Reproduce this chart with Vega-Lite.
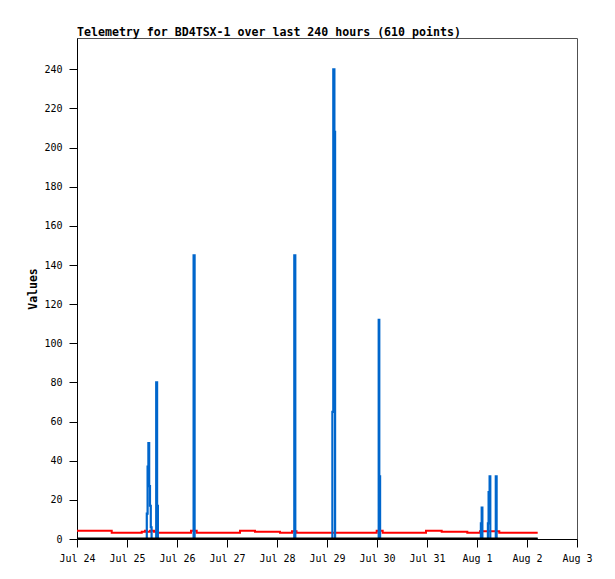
{
  "$schema": "https://vega.github.io/schema/vega-lite/v6.json",
  "width": 500,
  "height": 501,
  "autosize": {"type": "none"},
  "padding": {"left": 77, "top": 38, "right": 38, "bottom": 40},
  "background": "white",
  "title": {
    "text": "Telemetry for BD4TSX-1 over last 240 hours (610 points)",
    "anchor": "start",
    "frame": "group",
    "font": "DejaVu Sans Mono",
    "fontSize": 11.6,
    "fontWeight": "bold",
    "color": "black",
    "offset": -0.5
  },
  "config": {
    "view": {"stroke": "#505050", "strokeWidth": 1},
    "axis": {
      "domainColor": "black",
      "tickColor": "black",
      "labelColor": "black",
      "titleColor": "black",
      "labelFont": "DejaVu Sans Mono",
      "labelFontSize": 10,
      "titleFont": "DejaVu Sans Mono",
      "titleFontSize": 11.5,
      "titleFontWeight": "bold",
      "grid": false,
      "tickSize": 8
    }
  },
  "datasets": {
    "red": [
      {"t": "2023-07-24T00:00:00Z", "v": 4.2},
      {"t": "2023-07-24T16:40:00Z", "v": 3.2},
      {"t": "2023-07-25T07:04:00Z", "v": 3.7},
      {"t": "2023-07-25T08:38:00Z", "v": 4.2},
      {"t": "2023-07-25T09:36:00Z", "v": 3.7},
      {"t": "2023-07-25T11:02:00Z", "v": 4.2},
      {"t": "2023-07-25T12:58:00Z", "v": 3.7},
      {"t": "2023-07-25T14:38:00Z", "v": 3.2},
      {"t": "2023-07-26T06:43:00Z", "v": 4.2},
      {"t": "2023-07-26T09:27:00Z", "v": 3.2},
      {"t": "2023-07-27T06:14:00Z", "v": 4.2},
      {"t": "2023-07-27T13:26:00Z", "v": 3.7},
      {"t": "2023-07-28T01:26:00Z", "v": 3.2},
      {"t": "2023-07-28T07:12:00Z", "v": 3.9},
      {"t": "2023-07-28T09:22:00Z", "v": 3.2},
      {"t": "2023-07-29T23:51:00Z", "v": 4.2},
      {"t": "2023-07-30T02:44:00Z", "v": 3.2},
      {"t": "2023-07-30T23:31:00Z", "v": 4.2},
      {"t": "2023-07-31T07:03:00Z", "v": 3.7},
      {"t": "2023-07-31T19:21:00Z", "v": 3.2},
      {"t": "2023-08-01T01:26:00Z", "v": 3.9},
      {"t": "2023-08-01T10:42:00Z", "v": 3.2},
      {"t": "2023-08-02T05:08:00Z", "v": 3.2}
    ],
    "blue": [
      {"t": "2023-07-24T00:00:00Z", "v": 0},
      {"t": "2023-07-25T09:30:00Z", "v": 13},
      {"t": "2023-07-25T09:53:00Z", "v": 37},
      {"t": "2023-07-25T10:16:00Z", "v": 49},
      {"t": "2023-07-25T10:39:00Z", "v": 27},
      {"t": "2023-07-25T11:02:00Z", "v": 17},
      {"t": "2023-07-25T11:25:00Z", "v": 6},
      {"t": "2023-07-25T11:48:00Z", "v": 0},
      {"t": "2023-07-25T14:01:00Z", "v": 80},
      {"t": "2023-07-25T14:27:00Z", "v": 17},
      {"t": "2023-07-25T14:50:00Z", "v": 0},
      {"t": "2023-07-26T07:58:00Z", "v": 145},
      {"t": "2023-07-26T08:27:00Z", "v": 0},
      {"t": "2023-07-28T08:18:00Z", "v": 145},
      {"t": "2023-07-28T08:47:00Z", "v": 0},
      {"t": "2023-07-29T02:35:00Z", "v": 65},
      {"t": "2023-07-29T03:01:00Z", "v": 240},
      {"t": "2023-07-29T03:33:00Z", "v": 208},
      {"t": "2023-07-29T03:53:00Z", "v": 0},
      {"t": "2023-07-30T00:49:00Z", "v": 112},
      {"t": "2023-07-30T01:06:00Z", "v": 32},
      {"t": "2023-07-30T01:29:00Z", "v": 0},
      {"t": "2023-08-01T01:52:00Z", "v": 8},
      {"t": "2023-08-01T02:15:00Z", "v": 16},
      {"t": "2023-08-01T02:35:00Z", "v": 0},
      {"t": "2023-08-01T05:14:00Z", "v": 8},
      {"t": "2023-08-01T05:34:00Z", "v": 24},
      {"t": "2023-08-01T06:03:00Z", "v": 32},
      {"t": "2023-08-01T06:23:00Z", "v": 0},
      {"t": "2023-08-01T09:01:00Z", "v": 32},
      {"t": "2023-08-01T09:25:00Z", "v": 0},
      {"t": "2023-08-02T05:08:00Z", "v": 0}
    ],
    "black": [
      {"t": "2023-07-24T00:00:00Z", "v": 0},
      {"t": "2023-08-02T05:08:00Z", "v": 0}
    ]
  },
  "encoding": {
    "x": {
      "field": "t",
      "type": "temporal",
      "scale": {
        "type": "utc",
        "domain": ["2023-07-24T00:00:00Z", "2023-08-03T00:00:00Z"],
        "nice": false
      },
      "axis": {
        "title": null,
        "labelExpr": "utcFormat(datum.value, '%b %-d')",
        "tickCount": {"interval": "day", "step": 1},
        "labelPadding": 6,
        "labelOverlap": false,
        "labelFlush": false
      }
    },
    "y": {
      "field": "v",
      "type": "quantitative",
      "scale": {"domain": [0, 256], "nice": false, "zero": true},
      "axis": {
        "title": "Values",
        "values": [0, 20, 40, 60, 80, 100, 120, 140, 160, 180, 200, 220, 240],
        "labelPadding": 7,
        "titlePadding": 5
      }
    }
  },
  "layer": [
    {
      "data": {"name": "red"},
      "mark": {"type": "line", "interpolate": "step-after", "color": "#ff0000", "strokeWidth": 2, "clip": true}
    },
    {
      "data": {"name": "blue"},
      "mark": {"type": "line", "interpolate": "step-after", "color": "#0066cc", "strokeWidth": 2.2, "clip": true}
    },
    {
      "data": {"name": "black"},
      "mark": {"type": "line", "color": "#000000", "strokeWidth": 3, "clip": true}
    }
  ]
}
